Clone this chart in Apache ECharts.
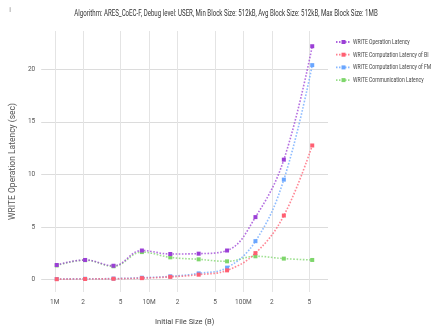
<!DOCTYPE html>
<html><head><meta charset="utf-8">
<script src="https://cdn.jsdelivr.net/npm/echarts@6/dist/echarts.min.js"></script>
<style>html,body{margin:0;padding:0;background:#fff}#c{width:439px;height:332px}</style>
</head><body><div id="c"></div>
<script>
const MB = 1048576;
const fileSizes = [1*MB, 2*MB, 4*MB, 8*MB, 16*MB, 32*MB, 64*MB, 128*MB, 256*MB, 512*MB];
const seriesNames = ['WRITE Operation Latency', 'WRITE Computation Latency of BI', 'WRITE Computation Latency of FM', 'WRITE Communication Latency'];
const operationLatency = [1.37, 1.85, 1.3, 2.75, 2.42, 2.45, 2.75, 5.93, 11.4, 22.2];
const computeBI = [0.02, 0.04, 0.06, 0.12, 0.24, 0.45, 0.86, 2.5, 6.08, 12.75];
const computeFM = [0.04, 0.06, 0.08, 0.16, 0.29, 0.57, 1.12, 3.64, 9.5, 20.4];
const communication = [1.33, 1.83, 1.25, 2.6, 2.1, 1.91, 1.72, 2.2, 1.98, 1.85];
const xTicks = [1e6, 2e6, 5e6, 1e7, 2e7, 5e7, 1e8, 2e8, 5e8];
const xTickLabels = ['1M', '2', '5', '10M', '2', '5', '100M', '2', '5'];
const yTicks = [0, 5, 10, 15, 20];
const colors = ['#9b3fd6', '#ff5f72', '#6aa6ff', '#7ed66b'];
const allValues = [operationLatency, computeBI, computeFM, communication];
const titleText = 'Algorithm: ARES_CoEC-F, Debug level: USER, Min Block Size: 512kB, Avg Block Size: 512kB, Max Block Size: 1MB';

const font = 'Roboto, sans-serif';
const graphics = [
  { type: 'text', x: 226, y: 14, scaleX: 0.68,
    style: { text: titleText, font: '9px Roboto, sans-serif', fill: '#333', align: 'center', verticalAlign: 'middle' } },
  { type: 'text', x: 10, y: 10,
    style: { text: 'i', font: '7px Roboto, sans-serif', fill: '#888', align: 'center', verticalAlign: 'middle' } }
];
// legend drawn as library graphics (condensed text via scaleX)
seriesNames.forEach((n, k) => {
  const y = 42 + k * 12.7;
  graphics.push(
    { type: 'line', shape: { x1: 336, y1: y, x2: 350, y2: y },
      style: { stroke: colors[k], lineWidth: 1.8, lineDash: [1.5, 1.5], opacity: 0.8 } },
    { type: 'rect', shape: { x: 341.5, y: y - 2, width: 4, height: 4 }, style: { fill: colors[k] } },
    { type: 'text', x: 353, y: y, scaleX: 0.63,
      style: { text: n, font: '8px Roboto, sans-serif', fill: '#444', align: 'left', verticalAlign: 'middle' } }
  );
});

const chart = echarts.init(document.getElementById('c'));
chart.setOption({
  animation: false,
  graphic: graphics,
  grid: { left: 33, right: 111, top: 31, bottom: 40, containLabel: false },
  xAxis: {
    type: 'log', logBase: 10, min: 0.718e6, max: 789e6,
    name: 'Initial File Size (B)', nameLocation: 'middle', nameGap: 26,
    nameTextStyle: { fontFamily: font, fontSize: 7.5, color: '#444' },
    axisLine: { show: false },
    axisTick: { show: false, customValues: xTicks },
    axisLabel: {
      customValues: xTicks, fontFamily: font, fontSize: 6.5, color: '#555', margin: 7,
      formatter: function (v) { const i = xTicks.findIndex(t => Math.abs(t - v) / t < 1e-6); return i >= 0 ? xTickLabels[i] : ''; }
    },
    splitLine: { show: true, lineStyle: { color: '#e4e4e4', width: 1 } }
  },
  yAxis: {
    type: 'value', min: -1.2, max: 23.65,
    name: 'WRITE Operation Latency (sec)', nameLocation: 'middle', nameGap: 18,
    nameTextStyle: { fontFamily: font, fontSize: 8.5, color: '#555' },
    axisLine: { show: false },
    axisTick: { show: false, customValues: yTicks },
    axisLabel: { customValues: yTicks, fontFamily: font, fontSize: 6.5, color: '#555', margin: 6 },
    splitLine: { show: true, lineStyle: { color: '#dcdcdc', width: 1 } }
  },
  series: seriesNames.map((n, k) => ({
    name: n, type: 'line', smooth: 0.4,
    data: fileSizes.map((s, i) => [s, allValues[k][i]]),
    symbol: 'rect', symbolSize: 4,
    itemStyle: { color: colors[k] },
    lineStyle: { type: 'dotted', width: 1.6, opacity: 0.75 },
    z: 10 - k
  }))
});
</script>
</body></html>
